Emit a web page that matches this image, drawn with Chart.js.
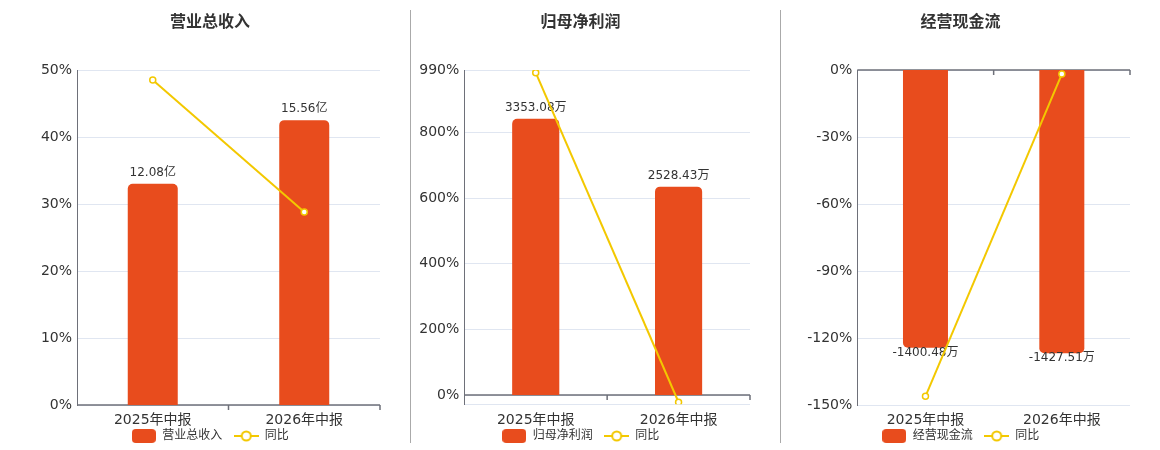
<!DOCTYPE html>
<html>
<head>
<meta charset="utf-8">
<script src="https://cdn.jsdelivr.net/npm/chart.js@4.4.0/dist/chart.umd.min.js"></script>
<style>
  html, body { margin: 0; padding: 0; background: #fff; overflow: hidden; }
  #wrap { position: relative; width: 1160px; height: 450px; }
  canvas { position: absolute; top: 0; }
  .sep { position: absolute; top: 10px; width: 1px; height: 433px; background: #aaa; }
</style>
</head>
<body>
<div id="wrap">
  <canvas id="revenueChart" width="410" height="452" style="left:0"></canvas>
  <div class="sep" style="left:410px"></div>
  <canvas id="profitChart" width="369" height="452" style="left:411px"></canvas>
  <div class="sep" style="left:780px"></div>
  <canvas id="cashChart" width="379" height="452" style="left:781px"></canvas>
</div>
<script>
const categories = ['2025年中报', '2026年中报'];

// 营业总收入 (亿) and YoY %
const revenue = [12.08, 15.56];
const revenueYoY = [48.5, 28.8];
const revenueTicks = [0, 10, 20, 30, 40, 50];
const revenueRange = [0, 50];
const revenueBarRange = [0, 18.3];

// 归母净利润 (万) and YoY %
const profit = [3353.08, 2528.43];
const profitYoY = [982, -22];
const profitTicks = [0, 200, 400, 600, 800, 990];
const profitRange = [-28.3, 990];
const profitBarRange = [-113, 3944];

// 经营现金流 (万) and YoY %
const cashflow = [-1400.48, -1427.51];
const cashflowYoY = [-146.1, -1.8];
const cashflowTicks = [-150, -120, -90, -60, -30, 0];
const cashflowRange = [-150, 0];
const cashflowBarRange = [-1689, 0];

const BAR_COLOR = '#e84c1d';
const LINE_COLOR = '#f3c800';
const AXIS_COLOR = '#6e7079';
const GRID_COLOR = '#e0e6f1';
const TEXT_COLOR = '#333';
const FONT = "'DejaVu Sans', 'Noto Sans CJK SC', sans-serif";

function barIcon() {
    const c = document.createElement('canvas');
    c.width = 24; c.height = 14;
    const g = c.getContext('2d');
    const r = 4, w = 24, h = 14;
    g.fillStyle = BAR_COLOR;
    g.beginPath();
    g.moveTo(r, 0);
    g.arcTo(w, 0, w, h, r);
    g.arcTo(w, h, 0, h, r);
    g.arcTo(0, h, 0, 0, r);
    g.arcTo(0, 0, w, 0, r);
    g.closePath();
    g.fill();
    return c;
}

function lineIcon() {
    const c = document.createElement('canvas');
    c.width = 25; c.height = 12;
    const g = c.getContext('2d');
    g.strokeStyle = LINE_COLOR;
    g.lineWidth = 2;
    g.beginPath();
    g.moveTo(0, 6); g.lineTo(25, 6);
    g.stroke();
    g.beginPath();
    g.arc(12.5, 6, 4.5, 0, Math.PI * 2);
    g.fillStyle = '#fff';
    g.fill();
    g.stroke();
    return c;
}

// axis line drawn at value 0 with category ticks, like the original
const zeroAxis = {
    id: 'zeroAxis',
    beforeDatasetsDraw(chart) {
        const { ctx, chartArea, scales: { x, y } } = chart;
        const y0 = y.getPixelForValue(0);
        ctx.save();
        ctx.strokeStyle = AXIS_COLOR;
        ctx.lineWidth = 1.5;
        ctx.beginPath();
        ctx.moveTo(chartArea.left, y0);
        ctx.lineTo(chartArea.right, y0);
        const n = x.ticks.length;
        for (let i = 1; i <= n; i++) {
            const px = x.left + i * x.width / n;
            ctx.moveTo(px, y0);
            ctx.lineTo(px, y0 + 5);
        }
        ctx.stroke();
        ctx.restore();
    }
};

const barLabels = {
    id: 'barLabels',
    afterDatasetDraw(chart, args, opts) {
        if (args.index !== 0) return;
        const { ctx } = chart;
        const values = chart.data.datasets[0].data;
        ctx.save();
        ctx.font = '12px ' + FONT;
        ctx.fillStyle = TEXT_COLOR;
        ctx.textAlign = 'center';
        ctx.textBaseline = 'middle';
        args.meta.data.forEach((bar, i) => {
            const v = values[i];
            const ty = v >= 0 ? bar.y - 11 : bar.y + 5;
            ctx.fillText(v.toFixed(2) + opts.unit, bar.x, ty);
        });
        ctx.restore();
    }
};

function makeChart(id, c) {
    const icons = [barIcon(), lineIcon()];
    const ctx = document.getElementById(id).getContext('2d');
    return new Chart(ctx, {
        type: 'bar',
        data: {
            labels: categories,
            datasets: [{
                type: 'bar',
                label: c.title,
                data: c.bars,
                yAxisID: 'y1',
                order: 2,
                backgroundColor: BAR_COLOR,
                borderRadius: 5,
                borderSkipped: 'start',
                categoryPercentage: 0.33,
                barPercentage: 1
            }, {
                type: 'line',
                label: '同比',
                data: c.yoy,
                yAxisID: 'y',
                order: 1,
                borderColor: LINE_COLOR,
                borderWidth: 2,
                tension: 0,
                pointRadius: 3,
                pointBackgroundColor: '#fff',
                pointBorderColor: LINE_COLOR,
                pointBorderWidth: 1.5
            }]
        },
        plugins: [zeroAxis, barLabels],
        options: {
            responsive: false,
            animation: false,
            events: [],
            layout: { padding: c.padding },
            scales: {
                x: {
                    grid: { display: false, drawTicks: false },
                    border: { display: false },
                    ticks: { color: TEXT_COLOR, font: { size: 14, family: FONT }, padding: c.xPad },
                    afterFit: s => { s.height = c.xHeight; }
                },
                y: {
                    position: 'left',
                    min: c.range[0],
                    max: c.range[1],
                    grid: { color: GRID_COLOR, drawTicks: false },
                    border: { display: true, color: AXIS_COLOR },
                    afterBuildTicks: s => {
                        const vals = Array.from(new Set([c.range[0], ...c.ticks, c.range[1]]));
                        s.ticks = vals.sort((a, b) => a - b).map(v => ({ value: v }));
                    },
                    ticks: {
                        color: TEXT_COLOR,
                        font: { size: 14, family: FONT },
                        padding: 5,
                        callback: v => c.ticks.includes(v) ? v + '%' : ''
                    },
                    afterFit: s => { s.width = c.yWidth; }
                },
                y1: {
                    position: 'right',
                    min: c.barRange[0],
                    max: c.barRange[1],
                    grid: { display: false, drawTicks: false },
                    border: { display: false },
                    ticks: { display: false },
                    afterFit: s => { s.width = c.rightWidth; }
                }
            },
            plugins: {
                title: {
                    display: true,
                    text: c.title,
                    color: TEXT_COLOR,
                    font: { size: 16, weight: 'bold', family: FONT },
                    padding: { top: 13.4, bottom: 37.4 }
                },
                legend: {
                    position: 'bottom',
                    labels: {
                        color: TEXT_COLOR,
                        font: { size: 12, family: FONT },
                        usePointStyle: true,
                        pointStyleWidth: 25,
                        padding: 3,
                        generateLabels: chart => {
                            const items = Chart.defaults.plugins.legend.labels.generateLabels(chart)
                                .sort((a, b) => a.datasetIndex - b.datasetIndex);
                            // a little extra room between the two legend entries
                            return items.map((l, i) => ({
                                ...l,
                                text: i < items.length - 1 ? l.text + '\u2002\u2009' : l.text,
                                pointStyle: icons[l.datasetIndex]
                            }));
                        }
                    }
                },
                tooltip: { enabled: false },
                barLabels: { unit: c.unit }
            }
        }
    });
}

makeChart('revenueChart', {
    title: '营业总收入', unit: '亿',
    bars: revenue, yoy: revenueYoY,
    ticks: revenueTicks, range: revenueRange, barRange: revenueBarRange,
    padding: { left: 10, right: 0, top: 0, bottom: 0 },
    yWidth: 67, rightWidth: 30, xHeight: 22, xPad: 6.6
});

makeChart('profitChart', {
    title: '归母净利润', unit: '万',
    bars: profit, yoy: profitYoY,
    ticks: profitTicks, range: profitRange, barRange: profitBarRange,
    padding: { left: 0, right: 30, top: 0, bottom: 0 },
    yWidth: 53.3, rightWidth: 0, xHeight: 22.7, xPad: 7.3
});

makeChart('cashChart', {
    title: '经营现金流', unit: '万',
    bars: cashflow, yoy: cashflowYoY,
    ticks: cashflowTicks, range: cashflowRange, barRange: cashflowBarRange,
    padding: { left: 0, right: 20, top: 0, bottom: 0 },
    yWidth: 76.3, rightWidth: 10, xHeight: 22, xPad: 6.6
});
</script>
</body>
</html>
